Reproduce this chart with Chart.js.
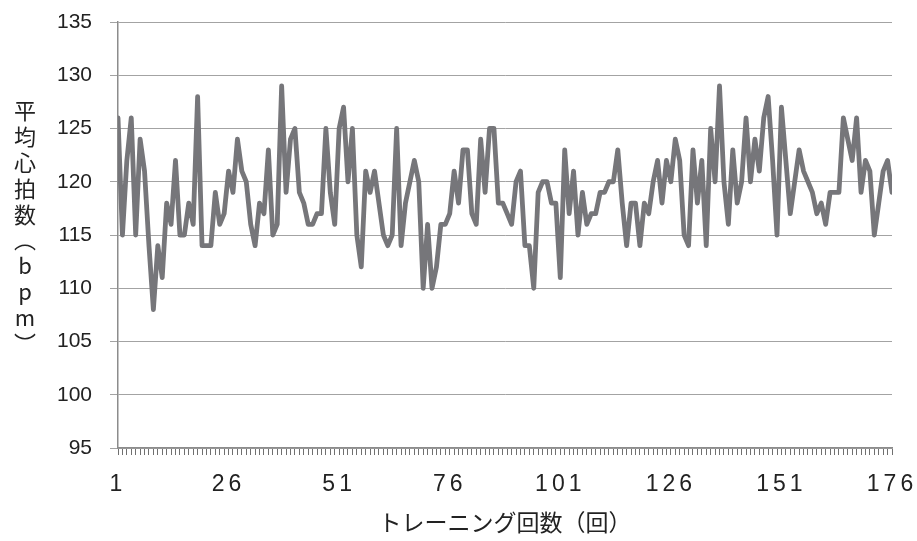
<!DOCTYPE html>
<html>
<head>
<meta charset="utf-8">
<script src="https://cdn.jsdelivr.net/npm/chart.js@4.4.0/dist/chart.umd.min.js"></script>
<style>
    html, body { margin: 0; padding: 0; background: #fff; }
    #wrap { width: 917px; height: 541px; }
</style>
</head>
<body>
<div id="wrap"><canvas id="hr-chart" width="917" height="541"></canvas></div>
<script>
// Average heart rate per training session (bpm)
const heartRate = [
    126, 115, 122, 126, 115, 124, 121, 114, 108, 114, 111, 118, 116, 122, 115, 115, 118, 116, 128, 114,
    114, 114, 119, 116, 117, 121, 119, 124, 121, 120, 116, 114, 118, 117, 123, 115, 116, 129, 119, 124,
    125, 119, 118, 116, 116, 117, 117, 125, 119, 116, 125, 127, 120, 125, 115, 112, 121, 119, 121, 118,
    115, 114, 115, 125, 114, 118, 120, 122, 120, 110, 116, 110, 112, 116, 116, 117, 121, 118, 123, 123,
    117, 116, 124, 119, 125, 125, 118, 118, 117, 116, 120, 121, 114, 114, 110, 119, 120, 120, 118, 118,
    111, 123, 117, 121, 115, 119, 116, 117, 117, 119, 119, 120, 120, 123, 118, 114, 118, 118, 114, 118,
    117, 120, 122, 118, 122, 120, 124, 122, 115, 114, 123, 118, 122, 114, 125, 120, 129, 120, 116, 123,
    118, 120, 126, 120, 124, 121, 126, 128, 122, 115, 127, 122, 117, 120, 123, 121, 120, 119, 117, 118,
    116, 119, 119, 119, 126, 124, 122, 126, 119, 122, 121, 115, 118, 121, 122, 119
];

// Session numbers (categories)
const sessions = heartRate.map((_, i) => i + 1);

// Axis labels
const xTickLabels = [1, 26, 51, 76, 101, 126, 151, 176];
const yTickValues = [95, 100, 105, 110, 115, 120, 125, 130, 135];
const xTitle = 'トレーニング回数（回）';
const yTitleChars = ['平', '均', '心', '拍', '数', '︵', 'b', 'p', 'm', '︶'];

const AXIS_GRAY = '#8c8c8c';
const TEXT_COLOR = '#222222';

// x tick labels at the session positions, spaced out like the original
const xLabelsPlugin = {
    id: 'xLabels',
    afterDraw(chart) {
        const ctx = chart.ctx;
        const xScale = chart.scales.x;
        ctx.save();
        ctx.fillStyle = TEXT_COLOR;
        ctx.font = '23px "Liberation Sans", Arial, sans-serif';
        ctx.letterSpacing = '4px';
        ctx.textAlign = 'center';
        ctx.textBaseline = 'middle';
        xTickLabels.forEach(v => {
            ctx.fillText(String(v), xScale.getPixelForValue(v), chart.chartArea.bottom + 37);
        });
        ctx.restore();
    }
};

// y axis title, written top to bottom
const yTitlePlugin = {
    id: 'yTitle',
    afterDraw(chart) {
        const ctx = chart.ctx;
        ctx.save();
        ctx.fillStyle = TEXT_COLOR;
        ctx.font = '22px "Noto Sans CJK JP", sans-serif';
        ctx.textAlign = 'center';
        ctx.textBaseline = 'middle';
        yTitleChars.forEach((ch, i) => {
            ctx.fillText(ch, 25, 111 + i * 25.8);
        });
        ctx.restore();
    }
};

const ctx = document.getElementById('hr-chart').getContext('2d');

new Chart(ctx, {
    type: 'line',
    data: {
        datasets: [{
            data: sessions.map((s, i) => ({ x: s, y: heartRate[i] })),
            borderColor: '#76767a',
            borderWidth: 4.8,
            pointRadius: 0,
            tension: 0,
            borderJoinStyle: 'round',
            borderCapStyle: 'round'
        }]
    },
    options: {
        responsive: false,
        animation: false,
        devicePixelRatio: 1,
        layout: {
            padding: { top: 22, right: 25, left: 0, bottom: 0 }
        },
        plugins: {
            legend: { display: false },
            tooltip: { enabled: false }
        },
        scales: {
            x: {
                type: 'linear',
                min: 1,
                max: sessions.length,
                afterBuildTicks: scale => {
                    // one tick mark per session
                    scale.ticks = sessions.map(s => ({ value: s }));
                },
                afterFit: scale => { scale.height = 93; },
                grid: {
                    drawOnChartArea: false,
                    drawTicks: true,
                    tickLength: 7,
                    color: AXIS_GRAY,
                    tickColor: '#707070',
                    tickWidth: 1
                },
                border: { color: AXIS_GRAY, width: 1.5 },
                ticks: { display: false },
                title: {
                    display: true,
                    text: xTitle,
                    color: TEXT_COLOR,
                    font: { family: '"Noto Sans CJK JP", sans-serif', size: 23 },
                    padding: { top: 0, bottom: 5 }
                }
            },
            y: {
                min: 95,
                max: 135,
                afterBuildTicks: scale => {
                    scale.ticks = yTickValues.map(v => ({ value: v }));
                },
                afterFit: scale => {
                    scale.width = 118;
                    // keep the label padding from pushing the plot down
                    scale.paddingTop = 0;
                    scale.paddingBottom = 0;
                },
                grid: {
                    color: '#a3a3a3',
                    tickLength: 8
                },
                border: { color: AXIS_GRAY, width: 1.5 },
                ticks: {
                    color: TEXT_COLOR,
                    font: { family: '"Liberation Sans", Arial, sans-serif', size: 21 },
                    padding: 18
                }
            }
        }
    },
    plugins: [xLabelsPlugin, yTitlePlugin]
});
</script>
</body>
</html>
